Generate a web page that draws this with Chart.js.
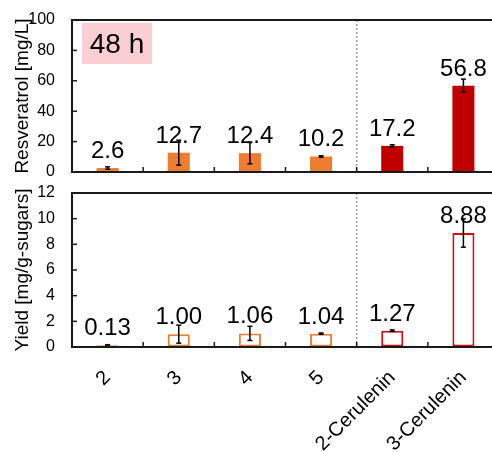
<!DOCTYPE html>
<html lang="en">
<head>
<meta charset="UTF-8" />
<title>Resveratrol 48 h</title>
<script src="https://cdn.jsdelivr.net/npm/chart.js"></script>
<style>
  body { margin: 0; background: #fff; overflow: hidden; width: 492px; height: 452px; position: relative; }
  canvas { position: absolute; left: 0; }
  #graficoTopo { top: 0; }
  #graficoBase { top: 180px; }
</style>
</head>
<body>
<canvas id="graficoTopo" width="500" height="190"></canvas>
<canvas id="graficoBase" width="500" height="272"></canvas>

<script>
// data
const categories = ['2', '3', '4', '5', '2-Cerulenin', '3-Cerulenin']
const resveratrol = [2.6, 12.7, 12.4, 10.2, 17.2, 56.8]
const resveratrolErr = [0.8, 8.2, 7.0, 0.5, 0.7, 4.3]
const yieldValues = [0.13, 1.00, 1.06, 1.04, 1.27, 8.88]
const yieldErr = [0.05, 0.7, 0.55, 0.05, 0.06, 1.1]
const resveratrolTicks = [0, 20, 40, 60, 80, 100]
const yieldTicks = [0, 2, 4, 6, 8, 10, 12]

const FONT = 'Arial, "Liberation Sans", sans-serif'
const orange = 'rgb(237, 125, 49)'
const red = 'rgb(192, 0, 0)'
const redLine = 'rgb(208, 16, 16)'
const fillColors = [orange, orange, orange, orange, red, red]
const lineColors = [orange, orange, orange, orange, redLine, redLine]

// frame, inside ticks, separator, error bars and value labels
const painelPlugin = {
  id: 'painel',
  afterDatasetsDraw(chart, args, opts) {
    const ctx = chart.ctx
    const area = chart.chartArea
    const xs = chart.scales.x
    const ys = chart.scales.y
    const ds = chart.data.datasets[0]

    function line(x1, y1, x2, y2) {
      ctx.beginPath()
      ctx.moveTo(x1, y1)
      ctx.lineTo(x2, y2)
      ctx.stroke()
    }

    ctx.save()

    // "48 h" tag
    if (opts.tag) {
      ctx.fillStyle = 'rgb(250, 206, 210)'
      ctx.fillRect(area.left + 10, area.top + 3, 70, 41)
      ctx.fillStyle = '#000'
      ctx.font = '28px ' + FONT
      ctx.textAlign = 'center'
      ctx.textBaseline = 'middle'
      ctx.fillText(opts.tag, area.left + 45, area.top + 25)
    }

    // dotted separator between 5 and 2-Cerulenin
    const sep = (xs.getPixelForValue(3) + xs.getPixelForValue(4)) / 2
    ctx.strokeStyle = '#9a9a9a'
    ctx.lineWidth = 1.5
    ctx.setLineDash([2, 2])
    line(sep, area.top, sep, area.bottom)
    ctx.setLineDash([])

    // error bars
    ctx.strokeStyle = '#000'
    ctx.lineWidth = 1.5
    for (let i = 0; i < ds.data.length; i++) {
      const xc = xs.getPixelForValue(i)
      const yTop = ys.getPixelForValue(ds.data[i] + ds.erros[i])
      const yBot = ys.getPixelForValue(Math.max(0, ds.data[i] - ds.erros[i]))
      line(xc, yTop, xc, yBot)
      line(xc - 2.5, yTop, xc + 2.5, yTop)
      line(xc - 2.5, yBot, xc + 2.5, yBot)
    }

    // value labels
    ctx.fillStyle = '#000'
    ctx.font = '24px ' + FONT
    ctx.textAlign = 'center'
    ctx.textBaseline = 'alphabetic'
    for (let i = 0; i < ds.data.length; i++) {
      const xc = xs.getPixelForValue(i)
      ctx.fillText(ds.data[i].toFixed(opts.decimals), xc, ys.getPixelForValue(ds.data[i]) - 10)
    }

    // axis frame
    ctx.strokeStyle = '#1a1a1a'
    ctx.lineWidth = 2
    ctx.strokeRect(area.left, area.top, area.right - area.left, area.bottom - area.top)

    // inside ticks
    ctx.lineWidth = 1.5
    ys.ticks.forEach(function (t) {
      const yp = ys.getPixelForValue(t.value)
      line(area.left, yp, area.left + 5, yp)
    })
    for (let i = 0; i < ds.data.length - 1; i++) {
      const xb = (xs.getPixelForValue(i) + xs.getPixelForValue(i + 1)) / 2
      line(xb, area.bottom, xb, area.bottom - 5)
    }

    ctx.restore()
  }
}

function yAxis(ticks, titulo) {
  return {
    min: ticks[0],
    max: ticks[ticks.length - 1],
    afterBuildTicks: function (s) { s.ticks = ticks.map(function (v) { return { value: v } }) },
    afterFit: function (s) { s.width = 72 },
    // invisible tick marks give the gap between labels and axis
    grid: { display: true, drawOnChartArea: false, drawTicks: true, tickLength: 17, color: 'rgba(0,0,0,0)' },
    border: { display: false },
    ticks: { color: '#000', font: { size: 16, family: FONT, lineHeight: 1 }, padding: 0 },
    title: {
      display: true,
      text: titulo,
      color: '#000',
      font: { size: 19, family: FONT },
      padding: { top: 11, bottom: 0 }
    }
  }
}

// top panel: resveratrol titre
new Chart(document.getElementById('graficoTopo').getContext('2d'), {
  type: 'bar',
  data: {
    labels: categories,
    datasets: [{
      data: resveratrol,
      erros: resveratrolErr,
      backgroundColor: fillColors,
      borderWidth: 0,
      categoryPercentage: 1,
      barPercentage: 0.31
    }]
  },
  options: {
    responsive: false,
    animation: false,
    layout: { padding: { top: 20, right: 1, bottom: 18, left: 0 } },
    scales: {
      x: {
        grid: { display: false, drawTicks: false },
        border: { display: false },
        ticks: { display: false },
        afterFit: function (s) { s.height = 0 }
      },
      y: yAxis(resveratrolTicks, 'Resveratrol [mg/L]')
    },
    plugins: {
      legend: { display: false },
      tooltip: { enabled: false },
      painel: { decimals: 1, tag: '48 h' }
    }
  },
  plugins: [painelPlugin]
})

// bottom panel: yield on sugars
new Chart(document.getElementById('graficoBase').getContext('2d'), {
  type: 'bar',
  data: {
    labels: categories,
    datasets: [{
      data: yieldValues,
      erros: yieldErr,
      backgroundColor: '#fff',
      borderColor: lineColors,
      borderWidth: 2,
      borderSkipped: false,
      categoryPercentage: 1,
      barPercentage: 0.31
    }]
  },
  options: {
    responsive: false,
    animation: false,
    layout: { padding: { top: 13, right: 1, bottom: 0, left: 0 } },
    scales: {
      x: {
        grid: { display: false, drawTicks: false },
        border: { display: false },
        ticks: {
          color: '#000',
          font: { size: 20, family: FONT },
          minRotation: 45,
          maxRotation: 45,
          padding: 19
        },
        afterFit: function (s) { s.height = 105 }
      },
      y: yAxis(yieldTicks, 'Yield [mg/g-sugars]')
    },
    plugins: {
      legend: { display: false },
      tooltip: { enabled: false },
      painel: { decimals: 2 }
    }
  },
  plugins: [painelPlugin]
})
</script>
</body>
</html>
